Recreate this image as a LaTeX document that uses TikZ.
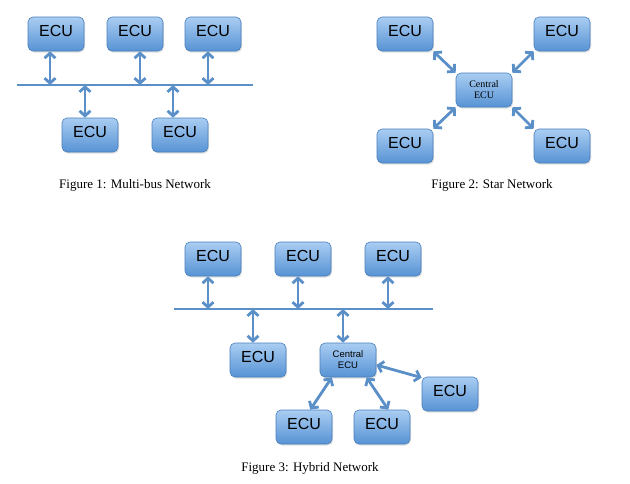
\documentclass[tikz,border=0pt]{standalone}
\usepackage{fontspec}
\setmainfont{Liberation Serif}
\newfontfamily\ecufont{Liberation Sans}
\usetikzlibrary{arrows.meta,shadows}
\definecolor{ecutop}{HTML}{A9CDF2}
\definecolor{ecubot}{HTML}{5793D4}
\definecolor{ecuedge}{HTML}{4A7EBB}
\definecolor{linkblue}{HTML}{5B8FC7}
\tikzset{
  ecu/.style={rectangle, rounded corners=5pt, draw=ecuedge, line width=0.6pt,
    top color=ecutop, bottom color=ecubot, minimum width=56pt, minimum height=34pt,
    drop shadow={opacity=0.25, shadow xshift=1pt, shadow yshift=-1.5pt},
    text depth=6pt, font=\ecufont\fontsize{16}{18}\selectfont},
  centralstar/.style={ecu, text depth=0pt, align=center, font=\fontsize{10}{11}\selectfont},
  centralhyb/.style={ecu, text depth=0pt, align=center, font=\ecufont\fontsize{9.5}{11}\selectfont},
  link/.style={line width=2.8pt, draw=linkblue,
    {Straight Barb[length=5pt,width=11pt]}-{Straight Barb[length=5pt,width=11pt]}},
  bus/.style={line width=2.8pt, draw=linkblue},
  caption/.style={font=\fontsize{13}{15}\selectfont}
}
\begin{document}
\begin{tikzpicture}[x=1pt,y=-1pt]
  \useasboundingbox (0,0) rectangle (630,483);
  % multi-bus
  \node[ecu] (m1) at (56,34) {ECU};
  \node[ecu] (m2) at (135,34) {ECU};
  \node[ecu] (m3) at (213,34) {ECU};
  \node[ecu] (m4) at (90,135) {ECU};
  \node[ecu] (m5) at (180,135) {ECU};
  \coordinate (mbusL) at (17,85);
  \coordinate (mbusR) at (253,85);
  \draw[bus] (mbusL) -- (mbusR);
  \foreach \n/\dx in {m1/-6,m2/5,m3/-5}
    \draw[link] ([xshift=\dx pt]\n.south) -- ([xshift=\dx pt]\n.south |- mbusL);
  \foreach \n/\dx in {m4/-5,m5/-7}
    \draw[link] ([xshift=\dx pt]\n.north |- mbusL) -- ([xshift=\dx pt]\n.north);
  \node[caption] (cap1) at (135,185) {Figure 1: Multi-bus Network};
  % star
  \node[centralstar] (sc) at (484,90) {Central\\ECU};
  \node[ecu] (s1) at (405,34) {ECU};
  \node[ecu] (s2) at (562,34) {ECU};
  \node[ecu] (s3) at (405,146) {ECU};
  \node[ecu] (s4) at (562,146) {ECU};
  \draw[link] (s1.south east) -- (sc.north west);
  \draw[link] (s2.south west) -- (sc.north east);
  \draw[link] (s3.north east) -- (sc.south west);
  \draw[link] (s4.north west) -- (sc.south east);
  \node[caption] (cap2) at (492,185) {Figure 2: Star Network};
  % hybrid
  \node[ecu] (h1) at (213,259) {ECU};
  \node[ecu] (h2) at (303,259) {ECU};
  \node[ecu] (h3) at (393,259) {ECU};
  \node[ecu] (h4) at (258,360) {ECU};
  \node[centralhyb] (hc) at (348,360) {Central\\ECU};
  \node[ecu] (hr) at (450,394) {ECU};
  \node[ecu] (hb1) at (304,427) {ECU};
  \node[ecu] (hb2) at (382,427) {ECU};
  \coordinate (hbusL) at (174,309);
  \coordinate (hbusR) at (433,309);
  \draw[bus] (hbusL) -- (hbusR);
  \foreach \n in {h1,h2,h3}
    \draw[link] ([xshift=-5pt]\n.south) -- ([xshift=-5pt]\n.south |- hbusL);
  \foreach \n in {h4,hc}
    \draw[link] ([xshift=-5pt]\n.north |- hbusL) -- ([xshift=-5pt]\n.north);
  \draw[link] (hc.-10) -- (hr.150);
  \draw[link] (hc.227) -- (hb1.70);
  \draw[link] (hc.-43) -- (hb2.70);
  \node[caption] (cap3) at (310,468) {Figure 3: Hybrid Network};
\end{tikzpicture}
\end{document}
